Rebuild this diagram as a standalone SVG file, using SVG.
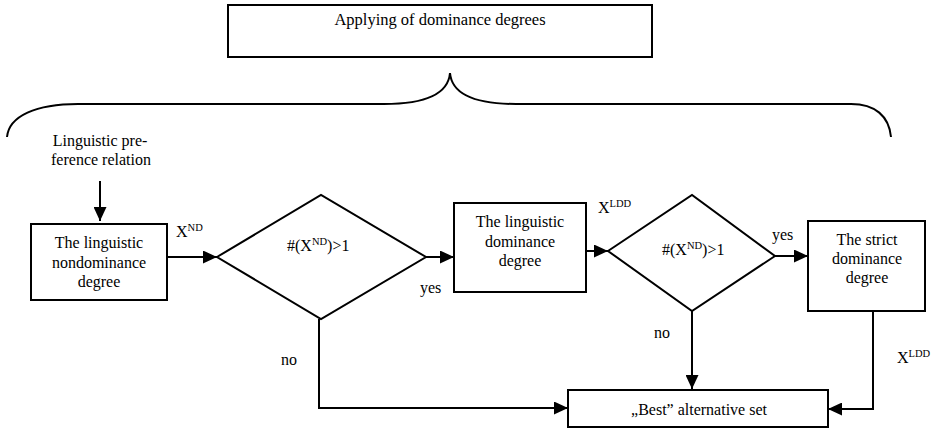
<svg xmlns="http://www.w3.org/2000/svg" width="937" height="430" viewBox="0 0 937 430">
<style>
text{font-family:"Liberation Serif","Times New Roman",Times,serif;font-size:16px;fill:#000}
.c{text-anchor:middle}
.box{fill:#fff;stroke:#000;stroke-width:2}
.ln{fill:none;stroke:#000;stroke-width:2}
.sup{font-size:10.5px}
</style>
<defs>
<marker id="ah" markerWidth="14" markerHeight="13" refX="14" refY="6.5" orient="auto" markerUnits="userSpaceOnUse">
<path d="M0,0 L14,6.5 L0,13 z" fill="#000"/>
</marker>
</defs>
<rect width="937" height="430" fill="#fff"/>

<g id="header">
<rect class="box" x="228" y="5" width="424" height="52"/>
<text class="c" x="440" y="25" style="font-size:16.5px">Applying of dominance degrees</text>
</g>

<g id="brace">
<path class="ln" stroke-width="1.6" d="M7,137 C9,116 36,104 78,104 L384,104 C422,104 448,96 450,73 C452,96 478,104 516,104 L851,104 C875,104 889,116 891,137"/>
</g>

<g id="input">
<text class="c" x="100" y="146">Linguistic pre-</text>
<text class="c" x="101" y="165">ference relation</text>
</g>

<g id="nondominance">
<rect class="box" x="31" y="224" width="136" height="76"/>
<text class="c" x="99" y="248">The linguistic</text>
<text class="c" x="99" y="268">nondominance</text>
<text class="c" x="99" y="287">degree</text>
</g>

<g id="decision1">
<polygon class="ln" points="217,257 321,195 426,257 321,319"/>
<text x="287" y="251">#(X<tspan class="sup" dy="-6">ND</tspan><tspan dy="6">)&gt;1</tspan></text>
</g>

<g id="dominance">
<rect class="box" x="454" y="203" width="132" height="89"/>
<text class="c" x="520" y="227">The linguistic</text>
<text class="c" x="520" y="247">dominance</text>
<text class="c" x="520" y="266">degree</text>
</g>

<g id="decision2">
<polygon class="ln" points="608,251 692,195 775,256 692,311"/>
<text x="662" y="255">#(X<tspan class="sup" dy="-6">ND</tspan><tspan dy="6">)&gt;1</tspan></text>
</g>

<g id="strict">
<rect class="box" x="808" y="221" width="117" height="90"/>
<text class="c" x="867" y="245">The strict</text>
<text class="c" x="867" y="264">dominance</text>
<text class="c" x="867" y="283">degree</text>
</g>

<g id="best">
<rect class="box" x="568" y="390" width="260" height="37"/>
<text class="c" x="699" y="415">„Best” alternative set</text>
</g>

<g id="connectors">
<path class="ln" d="M100,181 L100,221" marker-end="url(#ah)"/>
<path class="ln" d="M167,257 L217,257" marker-end="url(#ah)"/>
<path class="ln" d="M426,257 L454,257" marker-end="url(#ah)"/>
<path class="ln" d="M586,251 L608,251" marker-end="url(#ah)"/>
<path class="ln" d="M775,256 L808,256" marker-end="url(#ah)"/>
<path class="ln" d="M319,319 L319,408 L568,408" marker-end="url(#ah)"/>
<path class="ln" d="M692,311 L692,389" marker-end="url(#ah)"/>
<path class="ln" d="M873,311 L873,409 L828,409" marker-end="url(#ah)"/>
</g>

<g id="labels">
<text x="176" y="237">X<tspan class="sup" dy="-6">ND</tspan></text>
<text x="420" y="293">yes</text>
<text x="598" y="213">X<tspan class="sup" dy="-6">LDD</tspan></text>
<text x="772" y="240">yes</text>
<text x="281" y="365">no</text>
<text x="654" y="338">no</text>
<text x="897" y="363">X<tspan class="sup" dy="-6">LDD</tspan></text>
</g>
</svg>
